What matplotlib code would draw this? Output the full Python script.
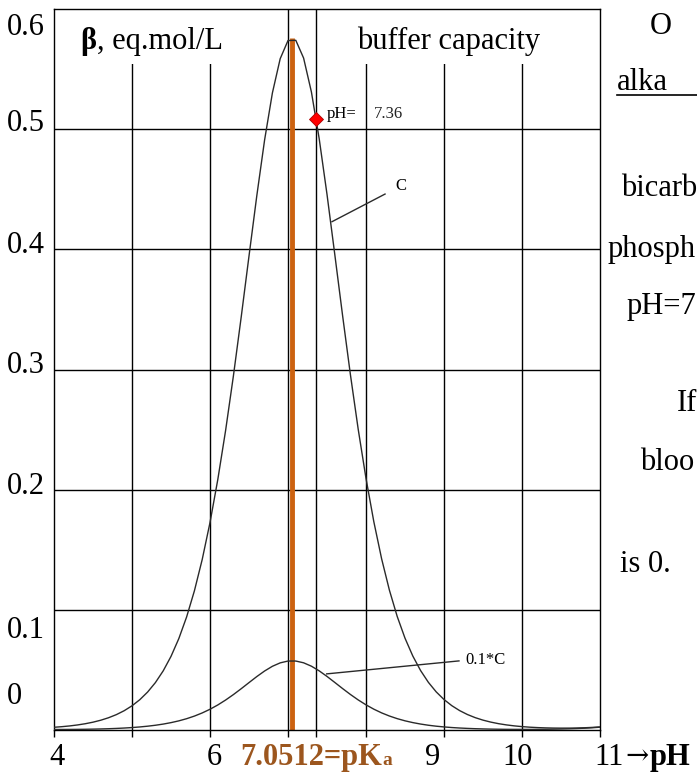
import matplotlib.pyplot as plt
from matplotlib.patches import Rectangle
from matplotlib.transforms import blended_transform_factory

plt.rcParams['font.family'] = ['Liberation Serif', 'DejaVu Serif']

# pH points (step 0.1) and buffer capacity
ph = [x / 10 for x in range(40, 111)]
beta_c = [0.00227, 0.00276, 0.00338, 0.00419, 0.00521, 0.00651, 0.00815, 0.01022, 0.01281, 0.01606,
          0.02013, 0.02522, 0.03157, 0.03945, 0.04921, 0.06125, 0.07603, 0.09404, 0.11581, 0.14186,
          0.17264, 0.20844, 0.24925, 0.29465, 0.34362, 0.39442, 0.44460, 0.49101, 0.53016, 0.55865,
          0.57375, 0.57394, 0.55918, 0.53098, 0.49205, 0.44577, 0.39565, 0.34482, 0.29579, 0.25029,
          0.20936, 0.17344, 0.14254, 0.11638, 0.09451, 0.07641, 0.06156, 0.04946, 0.03964, 0.03172,
          0.02536, 0.02025, 0.01616, 0.01289, 0.01028, 0.00821, 0.00657, 0.00526, 0.00424, 0.00344,
          0.00282, 0.00234, 0.00200, 0.00176, 0.00161, 0.00155, 0.00157, 0.00167, 0.00186, 0.00216,
          0.00256]
beta_01c = [0.00043, 0.00044, 0.00047, 0.00052, 0.00060, 0.00072, 0.00087, 0.00106, 0.00131, 0.00163,
            0.00203, 0.00254, 0.00317, 0.00395, 0.00492, 0.00613, 0.00760, 0.00940, 0.01158, 0.01419,
            0.01726, 0.02084, 0.02493, 0.02947, 0.03436, 0.03944, 0.04446, 0.04910, 0.05302, 0.05587,
            0.05738, 0.05739, 0.05592, 0.05310, 0.04921, 0.04458, 0.03957, 0.03448, 0.02958, 0.02503,
            0.02094, 0.01734, 0.01425, 0.01164, 0.00945, 0.00764, 0.00616, 0.00495, 0.00396, 0.00317,
            0.00256, 0.00205, 0.00165, 0.00133, 0.00108, 0.00089, 0.00074, 0.00063, 0.00055, 0.00051,
            0.00049, 0.00050, 0.00053, 0.00059, 0.00068, 0.00081, 0.00098, 0.00121, 0.00149, 0.00186,
            0.00233]

pka = 7.0512
peak_beta = 0.5758
mark_ph = 7.36
mark_beta = 0.5086

grid_x = [5, 6, 7, 8, 9, 10, mark_ph]
grid_y = [0.1, 0.2, 0.3, 0.4, 0.5]
tick_x = [4, 5, 6, 7, mark_ph, 8, 9, 10, 11]

# y tick labels and where they sit in the picture
ylabels = ['0.6', '0.5', '0.4', '0.3', '0.2', '0.1', '0']
ylabel_pos = [0.585, 0.505, 0.403, 0.303, 0.203, 0.083, 0.0275]
# x tick labels
xlabels = ['4', '6', '9', '10']
xlabel_pos = [4.04, 6.06, 8.85, 9.94]

# text on the right side (cut by the picture edge)
side_text = ['O', 'alka', 'bicarb', 'phosph', 'pH=7', 'If', 'bloo', 'is 0.']
side_x = [650, 617, 621, 608, 627, 677, 640, 620]
side_y = [27, 82, 189, 249, 306, 404, 463, 565]

W, H = 697, 779
fig = plt.figure(figsize=(W / 100, H / 100), dpi=100)
ax = fig.add_axes([54 / W, 49 / H, 546 / W, 721 / H])
ax.set_xlim(4, 11)
ax.set_ylim(0, 0.6)

# сетка
for v in grid_x:
    ax.axvline(v, color='black', lw=1.0, zorder=1)
for v in grid_y:
    ax.axhline(v, color='black', lw=1.0, zorder=1)

# white boxes under the two headers
ax.add_patch(Rectangle((4, 0.554), 2.45, 0.046, facecolor='white', edgecolor='none', zorder=1.5))
ax.add_patch(Rectangle((7.55, 0.554), 3.45, 0.046, facecolor='white', edgecolor='none', zorder=1.5))

# curves
ax.plot(ph, beta_c, color='#2a2a2a', lw=1.0, zorder=3)
ax.plot(ph, beta_01c, color='#2a2a2a', lw=1.0, zorder=3)
ax.vlines(pka, 0, peak_beta, color='#CC6210', lw=3.5, zorder=2.5)
ax.plot(mark_ph, mark_beta, 'D', color='red', mec='#AA0000', mew=0.6, ms=7, zorder=4)

# подписи кривых
ax.plot([7.564, 8.244], [0.423, 0.446], color='#2a2a2a', lw=1.0, zorder=3)
ax.text(8.38, 0.453, 'C', fontsize=12, va='center', ha='left')
ax.plot([7.496, 9.192], [0.0467, 0.0575], color='#2a2a2a', lw=1.0, zorder=3)
ax.text(9.28, 0.0583, '0.1*C', fontsize=12, va='center', ha='left')
ax.text(7.50, 0.5125, 'pH=', fontsize=12, va='center', ha='left')
ax.text(8.10, 0.5125, '7.36', fontsize=12, va='center', ha='left', color='#222222')

# headers
ax.text(4.333, 0.573, 'β', fontsize=22, fontweight='bold', va='center', ha='left', zorder=5)
ax.text(4.55, 0.573, ', eq.mol/L', fontsize=22, va='center', ha='left', zorder=5)
ax.text(7.885, 0.573, 'buffer capacity', fontsize=22, va='center', ha='left', zorder=5)

# оси
ax.set_xticks(tick_x)
ax.set_xticklabels([])
ax.set_yticks([])
ax.tick_params(axis='x', direction='out', length=5, width=1)
for s in ax.spines.values():
    s.set_linewidth(1.0)

trans = blended_transform_factory(ax.transAxes, ax.transData)
for lab, pos in zip(ylabels, ylabel_pos):
    ax.text(-47 / 546, pos, lab, transform=trans, fontsize=22, va='center', ha='left')

for lab, pos in zip(xlabels, xlabel_pos):
    ax.text(pos, -0.0225, lab, fontsize=22, va='center', ha='center', clip_on=False)

# 7.0512=pKa label
brown = '#9C561E'
t = ax.text(6.385, -0.0225, '7.0512=pK', fontsize=22, fontweight='bold', color=brown,
            va='center', ha='left', clip_on=False)
ax.annotate('a', xy=(1.0, 0.0), xycoords=t, xytext=(0, 2), textcoords='offset points',
            fontsize=14, fontweight='bold', color=brown, va='bottom', ha='left', annotation_clip=False)

ax.text(11.3, -0.0225, '11', fontsize=22, va='center', ha='right', clip_on=False)
ax.text(11.47, -0.0225, '→', fontsize=20, family='DejaVu Serif', va='center', ha='center', clip_on=False)
ax.text(11.64, -0.0225, 'pH', fontsize=22, fontweight='bold', va='center', ha='left', clip_on=False)

# текст справа
for s_t, x, y in zip(side_text, side_x, side_y):
    fig.text(x / W, 1 - y / H, s_t, fontsize=22, va='center', ha='left')
fig.add_artist(plt.Line2D([617 / W, 1], [1 - 95 / H, 1 - 95 / H], color='black', lw=1.2))

fig.savefig('out.png', dpi=100)
